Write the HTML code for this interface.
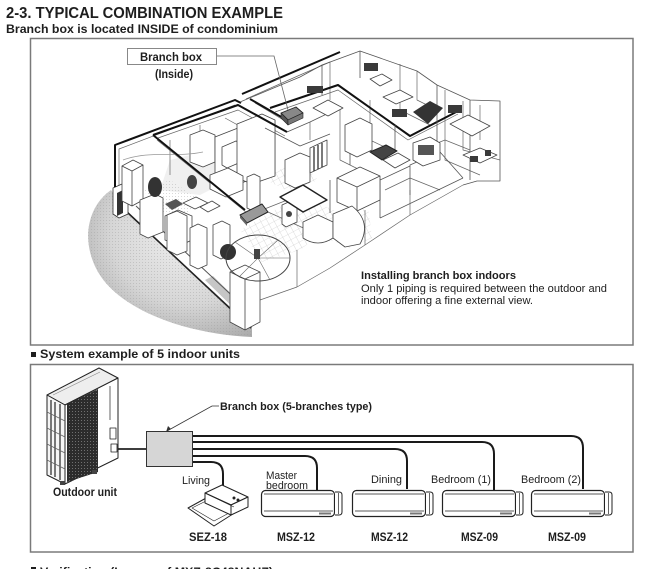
<!DOCTYPE html>
<html><head><meta charset="utf-8"><style>
html,body{margin:0;padding:0;background:#fff;}
body{width:651px;height:569px;overflow:hidden;}
svg{display:block;}
text{font-family:"Liberation Sans",Arial,sans-serif;fill:#1e1e1e;}
.b{font-weight:bold;}
</style></head><body>
<svg width="651" height="569" viewBox="0 0 651 569" xmlns="http://www.w3.org/2000/svg">
<defs>
<radialGradient id="sh" cx="0.62" cy="0.3" r="0.8">
 <stop offset="0" stop-color="#f0f0f0"/>
 <stop offset="0.6" stop-color="#d6d6d6"/>
 <stop offset="1" stop-color="#a8a8a8"/>
</radialGradient>
<pattern id="dots" width="3" height="3" patternUnits="userSpaceOnUse">
 <circle cx="1.5" cy="1.5" r="0.5" fill="#999"/>
</pattern>
<pattern id="grille" width="3" height="3" patternUnits="userSpaceOnUse">
 <rect width="3" height="3" fill="#2c2c2c"/><rect width="1" height="1" fill="#707070"/>
</pattern>
<pattern id="tile" width="6" height="6" patternUnits="userSpaceOnUse" patternTransform="rotate(-28)">
 <rect width="6" height="6" fill="#fff"/>
 <path d="M0,0 H6 M0,0 V6" stroke="#c4c4c4" stroke-width="0.6"/>
</pattern>
</defs>

<!-- Titles -->
<text x="6" y="18" class="b" font-size="15.5" textLength="277" lengthAdjust="spacingAndGlyphs">2-3. TYPICAL COMBINATION EXAMPLE</text>
<text x="6" y="33" class="b" font-size="12" textLength="272" lengthAdjust="spacingAndGlyphs">Branch box is located INSIDE of condominium</text>

<!-- Top frame -->
<rect x="30.5" y="38.5" width="602.5" height="306.5" fill="none" stroke="#7a7a7a" stroke-width="1.5"/>

<!-- ===== Illustration ===== -->
<g stroke-linejoin="round">
 <!-- shaded outdoor floor -->
 <path d="M111,190 C88,206 80,240 98,272 C120,310 185,334 252,337 L252,327 L128,213 Z" fill="url(#sh)"/>
 <path d="M111,190 C88,206 80,240 98,272 C120,310 185,334 252,337 L252,327 L128,213 Z" fill="url(#dots)" opacity="0.5"/>
 <polygon points="205,280 252,326 256,318 213,276" fill="#a0a0a0" opacity="0.6"/>
 <path d="M127,212 L251,328" stroke="#222" stroke-width="1.6"/>
 <path d="M136,206 L256,318" stroke="#555" stroke-width="1"/>

 <!-- floor tiles -->
 <polygon points="240,230 300,195 345,215 300,250 262,262" fill="url(#tile)"/>
 <polygon points="332,212 368,205 372,238 350,248 330,240" fill="url(#tile)"/>
 <polygon points="262,178 300,160 318,180 290,192" fill="url(#tile)"/>
 <polygon points="170,160 210,150 240,175 200,195 160,190" fill="#f0f0f0"/>
 <polygon points="145,190 170,180 200,200 185,215 150,210" fill="url(#dots)" opacity="0.5"/>

 <!-- outdoor unit in illustration -->
 <polygon points="113,188 122,184 128,188 128,214 119,218 113,214" fill="#fff" stroke="#333" stroke-width="0.8"/>
 <polygon points="117,193 123,190 123,213 117,216" fill="#333"/>

 <!-- thin wall doubles -->
 <g fill="none" stroke="#666" stroke-width="0.7">
  <polyline points="119,185 119,149 235,105"/>
  <polyline points="158,138 238,110 285,136"/>
  <line x1="157" y1="140" x2="247" y2="213"/>
  <polyline points="246,99 300,75 330,62"/>
  <line x1="255" y1="103" x2="285" y2="121"/>
  <polyline points="275,112 338,90 408,140 458,114"/>
  <line x1="262" y1="210" x2="300" y2="195"/>
  <line x1="268" y1="212" x2="330" y2="240"/>
  <polyline points="297,287 330,268 365,245 410,215 463,185"/>
  <polyline points="260,300 297,287"/>
  <line x1="297" y1="287" x2="297" y2="250"/>
  <line x1="365" y1="245" x2="365" y2="210"/>
  <line x1="410" y1="215" x2="410" y2="190"/>
  <polyline points="275,120 275,176"/>
  <polyline points="330,62 330,100"/>
  <polyline points="400,64 400,110 430,125"/>
  <polyline points="417,71 417,100 437,110"/>
  <polyline points="445,90 445,160 480,175"/>
  <polyline points="480,105 480,140"/>
  <polyline points="463,101 463,150 500,160"/>
  <polyline points="340,110 340,160 380,180"/>
  <polyline points="310,122 310,140"/>
  <polyline points="370,100 370,140 395,152"/>
  <polyline points="420,150 445,140 470,150"/>
  <polyline points="385,190 410,178 440,190"/>
  <line x1="200" y1="125" x2="200" y2="165"/>
  <line x1="170" y1="140" x2="170" y2="175"/>
  <line x1="225" y1="118" x2="265" y2="140"/>
 </g>

 <!-- living room blocks -->
 <g fill="#fff" stroke="#444" stroke-width="0.8">
  <polygon points="122,166 133,160 143,165 143,200 132,206 122,201"/>
  <polyline points="122,166 132,171 143,165" fill="none"/>
  <line x1="132" y1="171" x2="132" y2="206"/>
  <polygon points="190,135 203,130 215,135 215,162 203,167 190,162"/>
  <polygon points="215,137 238,128 255,136 255,178 233,186 215,178"/>
  <polygon points="222,147 236,141 241,144 241,162 227,168 222,165"/>
  <polygon points="237,124 262,114 275,120 275,176 252,184 237,178"/>
  <polygon points="210,175 228,168 243,176 243,190 226,197 210,189"/>
  <polygon points="183,203 196,197 208,203 195,209"/>
  <polygon points="200,207 212,201 220,206 208,212"/>
  <polygon points="247,177 254,174 260,177 260,208 253,211 247,208"/>
  <polygon points="165,216 178,210 192,216 192,240 179,246 165,240"/>
  <polygon points="167,215 177,211 187,216 187,251 177,255 167,250"/>
  <polygon points="190,228 198,224 207,228 207,265 198,269 190,265"/>
  <polygon points="230,272 245,265 260,272 260,322 245,330 230,322"/>
  <line x1="245" y1="279" x2="245" y2="330"/>
  <polyline points="230,272 245,279 260,272" fill="none"/>
  <polygon points="140,200 155,194 163,198 163,232 148,238 140,234"/>
  <polygon points="213,225 222,221 230,225 230,255 221,259 213,255"/>
 </g>
 <path d="M123,160 C150,150 175,158 203,152" fill="none" stroke="#999" stroke-width="0.7"/>
 <!-- plants / dark items -->
 <ellipse cx="155" cy="187" rx="7" ry="10" fill="#333"/>
 <ellipse cx="192" cy="182" rx="5" ry="7" fill="#444"/>
 <polygon points="165,204 176,199 183,204 172,210" fill="#555"/>
 <ellipse cx="228" cy="252" rx="8" ry="8" fill="#333"/>
 <!-- circular platform -->
 <ellipse cx="258" cy="258" rx="32" ry="23" fill="none" stroke="#444" stroke-width="1"/>
 <g stroke="#666" stroke-width="0.6">
  <line x1="258" y1="258" x2="290" y2="258"/><line x1="258" y1="258" x2="235" y2="242"/>
  <line x1="258" y1="258" x2="270" y2="280"/><line x1="258" y1="258" x2="278" y2="240"/>
  <line x1="258" y1="258" x2="240" y2="276"/>
 </g>
 <rect x="254" y="249" width="6" height="10" fill="#444"/>

 <!-- pipes (thick) -->
 <g fill="none" stroke="#111" stroke-width="2">
  <polyline points="115,187 115,145 235,100 241,103"/>
  <polyline points="153,135 238,105 287,132"/>
  <line x1="153" y1="135" x2="245" y2="210"/>
  <line x1="242" y1="94" x2="340" y2="52"/>
  <line x1="250" y1="99" x2="283" y2="118"/>
  <polyline points="270,108 338,85 410,136 460,110"/>
 </g>
 <g fill="none" stroke="#555" stroke-width="0.8">
  <polyline points="240,102 300,77 322,65 360,51 417,71 437,85 470,100 500,101 500,181 477,181 463,185"/>
  <line x1="380" y1="218" x2="463" y2="178"/>
  <polyline points="287,132 310,122 335,110"/>
  <polyline points="265,128 300,146 330,134"/>
  <line x1="322" y1="65" x2="322" y2="95"/>
  <line x1="360" y1="51" x2="360" y2="78"/>
  <line x1="437" y1="85" x2="437" y2="150"/>
  <line x1="470" y1="100" x2="470" y2="180"/>
  <polyline points="380,218 380,180 410,166"/>
  <polyline points="410,195 410,165 440,152 463,178"/>
  <line x1="330" y1="213" x2="330" y2="180"/>
  <line x1="350" y1="130" x2="350" y2="165"/>
  <line x1="395" y1="125" x2="395" y2="150"/>
 </g>

 <!-- floor branch box -->
 <polygon points="240,215 262,204 268,212 247,223" fill="#999" stroke="#222" stroke-width="1"/>
 <polygon points="240,215 247,223 247,226 240,218" fill="#666"/>
 <!-- indoor branch box -->
 <polygon points="281,113 296,107 303,113 288,120" fill="#888" stroke="#222" stroke-width="0.9"/>
 <polygon points="281,113 288,120 288,125 281,118" fill="#555" stroke="#222" stroke-width="0.6"/>
 <polygon points="288,120 303,113 303,118 288,125" fill="#777" stroke="#222" stroke-width="0.6"/>

 <!-- center blocks -->
 <g fill="#fff" stroke="#444" stroke-width="0.8">
  <polygon points="285,160 300,153 310,157 310,182 295,188 285,183"/>
  <polygon points="310,148 327,140 327,165 310,173"/>
  <polygon points="337,178 360,167 380,176 380,200 357,211 337,202"/>
  <polyline points="337,178 357,187 380,176" fill="none"/>
  <line x1="357" y1="187" x2="357" y2="211"/>
  <path d="M303,222 L318,215 L333,222 L333,238 Q318,248 303,238 Z"/>
  <path d="M333,214 L352,206 Q372,222 360,244 L345,247 L333,238 Z"/>
  <polygon points="282,205 293,200 297,203 297,222 286,227 282,224"/>
  <polygon points="383,160 398,153 410,160 395,168"/>
  <polygon points="413,143 430,137 440,143 440,160 423,166 413,160"/>
  <polygon points="450,124 468,115 490,126 472,136"/>
  <polygon points="370,79 382,74 392,80 380,86"/>
  <polygon points="383,97 400,90 413,97 396,104"/>
  <polygon points="313,108 328,100 343,108 328,116"/>
  <polygon points="463,155 480,148 497,155 480,163"/>
  <polygon points="345,125 360,118 372,124 372,150 357,157 345,151"/>
 </g>
 <g stroke="#222" stroke-width="1.2">
  <line x1="314" y1="147" x2="314" y2="171"/><line x1="318" y1="145" x2="318" y2="169"/><line x1="322" y1="143" x2="322" y2="167"/>
 </g>
 <polygon points="280,197 303,185 327,200 303,212" fill="#fff" stroke="#222" stroke-width="1.4"/>
 <circle cx="289" cy="214" r="3" fill="#444"/>
 <polygon points="370,152 386,145 397,151 382,160" fill="#444" stroke="#222"/>
 <rect x="418" y="145" width="16" height="10" fill="#555"/>
 <polygon points="413,112 430,101 443,108 428,124" fill="#333"/>
 <g fill="#3a3a3a">
  <rect x="307" y="86" width="16" height="7"/>
  <rect x="392" y="109" width="15" height="8"/>
  <rect x="448" y="105" width="14" height="8"/>
  <rect x="364" y="63" width="14" height="8"/>
  <rect x="470" y="156" width="8" height="6"/>
  <rect x="485" y="150" width="6" height="6"/>
 </g>
</g>

<!-- Branch box (Inside) label -->
<rect x="127.5" y="48.5" width="89" height="16" fill="#fff" stroke="#888" stroke-width="1"/>
<text x="140" y="61" class="b" font-size="11.5" textLength="62" lengthAdjust="spacingAndGlyphs">Branch box</text>
<text x="155" y="78" class="b" font-size="11.5" textLength="38" lengthAdjust="spacingAndGlyphs">(Inside)</text>
<polyline points="217,56 274,56 288,110" fill="none" stroke="#666" stroke-width="0.8"/>

<!-- Description -->
<text x="361" y="279" class="b" font-size="11" textLength="155" lengthAdjust="spacingAndGlyphs">Installing branch box indoors</text>
<text x="361" y="292" font-size="11" fill="#333" textLength="246" lengthAdjust="spacingAndGlyphs">Only 1 piping is required between the outdoor and</text>
<text x="361" y="304" font-size="11" fill="#333" textLength="172" lengthAdjust="spacingAndGlyphs">indoor offering a fine external view.</text>

<!-- Section 2 heading -->
<rect x="31" y="352" width="5" height="5" fill="#1e1e1e"/>
<text x="40" y="358" class="b" font-size="12" textLength="200" lengthAdjust="spacingAndGlyphs">System example of 5 indoor units</text>

<!-- Lower frame -->
<rect x="30.5" y="364.5" width="602.5" height="187.5" fill="none" stroke="#7a7a7a" stroke-width="1.5"/>

<!-- Outdoor unit -->
<g stroke="#222" stroke-width="1" stroke-linejoin="round">
 <polygon points="47,395 99,368 118,378 65,405" fill="#eee"/>
 <line x1="53" y1="395" x2="100" y2="372" stroke="#888" stroke-width="0.6"/>
 <polygon points="47,395 65,405 65,484 47,475" fill="#f5f5f5"/>
 <polygon points="65,405 118,378 118,458 65,484" fill="#fff"/>
 <polygon points="67,404 98,389 98,472 67,482" fill="url(#grille)" stroke="none"/>
 <line x1="110" y1="386" x2="110" y2="420" stroke-width="0.7"/>
 <rect x="110" y="428" width="6" height="11" fill="#fff" stroke-width="0.8"/>
 <rect x="111" y="444" width="6" height="8" fill="#fff" stroke-width="0.8"/>
 <rect x="60" y="481" width="5" height="4" fill="#444" stroke="none"/>
 <rect x="92" y="470" width="5" height="4" fill="#444" stroke="none"/>
</g>
<g stroke="#333" stroke-width="1.3">
 <line x1="51" y1="400" x2="51" y2="475"/><line x1="55" y1="402" x2="55" y2="477"/><line x1="60" y1="404" x2="60" y2="480"/>
</g>
<g stroke="#666" stroke-width="0.7">
 <line x1="47" y1="412" x2="65" y2="421"/><line x1="47" y1="428" x2="65" y2="437"/>
 <line x1="47" y1="444" x2="65" y2="453"/><line x1="47" y1="460" x2="65" y2="469"/>
</g>
<text x="53" y="496" class="b" font-size="12" textLength="64" lengthAdjust="spacingAndGlyphs">Outdoor unit</text>

<!-- connection to branch box -->
<line x1="118" y1="449" x2="147" y2="449" stroke="#222" stroke-width="1.8"/>
<rect x="146.5" y="431.5" width="46" height="35" fill="#d6d6d6" stroke="#333" stroke-width="1"/>
<polyline points="167,431 212,406 219,406" fill="none" stroke="#333" stroke-width="0.8"/>
<polygon points="166,432 168,426 171,429" fill="#333"/>
<text x="220" y="410" class="b" font-size="11" textLength="152" lengthAdjust="spacingAndGlyphs">Branch box (5-branches type)</text>

<!-- pipes -->
<g fill="none" stroke="#1a1a1a" stroke-width="2">
 <path d="M193,436 H571 Q583,436 583,448 V489"/>
 <path d="M193,442 H482 Q494,442 494,454 V490"/>
 <path d="M193,449 H395 Q407,449 407,461 V489"/>
 <path d="M193,456 H305 Q317,456 317,468 V490"/>
 <path d="M193,462 H211 Q223,462 223,474 V487"/>
</g>

<!-- SEZ unit -->
<g stroke="#222" stroke-width="1" stroke-linejoin="round" fill="#fff">
 <polygon points="188,508 208,497 236,512 214,526"/>
 <polygon points="192,508 208,500 231,512 214,521" fill="none" stroke-width="0.6"/>
 <polygon points="205,493 222,485 248,497 231,505"/>
 <polygon points="205,493 231,505 231,515 205,503"/>
 <polygon points="231,505 248,497 248,507 231,515"/>
 <line x1="209" y1="495" x2="234" y2="507" stroke-width="0.6"/>
 <circle cx="234" cy="498" r="1" fill="#222"/><circle cx="238" cy="500" r="1" fill="#222"/>
</g>

<!-- wall units -->
<g stroke="#222" fill="#fff">
 <g transform="translate(261,490)">
  <rect x="0.5" y="0.5" width="73" height="26" rx="4" stroke-width="1.2"/>
  <line x1="3" y1="4" x2="72" y2="4" stroke-width="0.8"/>
  <line x1="3" y1="21" x2="72" y2="21" stroke-width="0.8"/>
  <path d="M74,2 h4 q3,0 3,3 v17 q0,3 -3,3 h-4" stroke-width="1"/>
  <line x1="77.5" y1="3" x2="77.5" y2="24" stroke-width="0.7"/>
  <rect x="58" y="22.5" width="12" height="2" fill="#777" stroke="none"/>
 </g>
 <g transform="translate(352,490)">
  <rect x="0.5" y="0.5" width="73" height="26" rx="4" stroke-width="1.2"/>
  <line x1="3" y1="4" x2="72" y2="4" stroke-width="0.8"/>
  <line x1="3" y1="21" x2="72" y2="21" stroke-width="0.8"/>
  <path d="M74,2 h4 q3,0 3,3 v17 q0,3 -3,3 h-4" stroke-width="1"/>
  <line x1="77.5" y1="3" x2="77.5" y2="24" stroke-width="0.7"/>
  <rect x="58" y="22.5" width="12" height="2" fill="#777" stroke="none"/>
 </g>
 <g transform="translate(442,490)">
  <rect x="0.5" y="0.5" width="73" height="26" rx="4" stroke-width="1.2"/>
  <line x1="3" y1="4" x2="72" y2="4" stroke-width="0.8"/>
  <line x1="3" y1="21" x2="72" y2="21" stroke-width="0.8"/>
  <path d="M74,2 h4 q3,0 3,3 v17 q0,3 -3,3 h-4" stroke-width="1"/>
  <line x1="77.5" y1="3" x2="77.5" y2="24" stroke-width="0.7"/>
  <rect x="58" y="22.5" width="12" height="2" fill="#777" stroke="none"/>
 </g>
 <g transform="translate(531,490)">
  <rect x="0.5" y="0.5" width="73" height="26" rx="4" stroke-width="1.2"/>
  <line x1="3" y1="4" x2="72" y2="4" stroke-width="0.8"/>
  <line x1="3" y1="21" x2="72" y2="21" stroke-width="0.8"/>
  <path d="M74,2 h4 q3,0 3,3 v17 q0,3 -3,3 h-4" stroke-width="1"/>
  <line x1="77.5" y1="3" x2="77.5" y2="24" stroke-width="0.7"/>
  <rect x="58" y="22.5" width="12" height="2" fill="#777" stroke="none"/>
 </g>
</g>

<!-- room labels -->
<g font-size="11" fill="#333">
 <text x="182" y="484" textLength="28" lengthAdjust="spacingAndGlyphs">Living</text>
 <text x="266" y="479" textLength="31" lengthAdjust="spacingAndGlyphs">Master</text>
 <text x="266" y="489" textLength="42" lengthAdjust="spacingAndGlyphs">bedroom</text>
 <text x="371" y="483" textLength="31" lengthAdjust="spacingAndGlyphs">Dining</text>
 <text x="431" y="483" textLength="60" lengthAdjust="spacingAndGlyphs">Bedroom (1)</text>
 <text x="521" y="483" textLength="60" lengthAdjust="spacingAndGlyphs">Bedroom (2)</text>
</g>

<!-- model labels -->
<g font-size="11.5">
 <text x="189" y="541" class="b" textLength="38" lengthAdjust="spacingAndGlyphs">SEZ-18</text>
 <text x="277" y="541" class="b" textLength="38" lengthAdjust="spacingAndGlyphs">MSZ-12</text>
 <text x="371" y="541" class="b" textLength="37" lengthAdjust="spacingAndGlyphs">MSZ-12</text>
 <text x="461" y="541" class="b" textLength="37" lengthAdjust="spacingAndGlyphs">MSZ-09</text>
 <text x="548" y="541" class="b" textLength="38" lengthAdjust="spacingAndGlyphs">MSZ-09</text>
</g>

<!-- partially visible next heading -->
<rect x="31" y="567" width="5" height="5" fill="#1e1e1e"/>
<text x="40" y="576" class="b" font-size="12" textLength="233" lengthAdjust="spacingAndGlyphs">Verification (In case of MXZ-8C48NAHZ)</text>
</svg>
</body></html>
